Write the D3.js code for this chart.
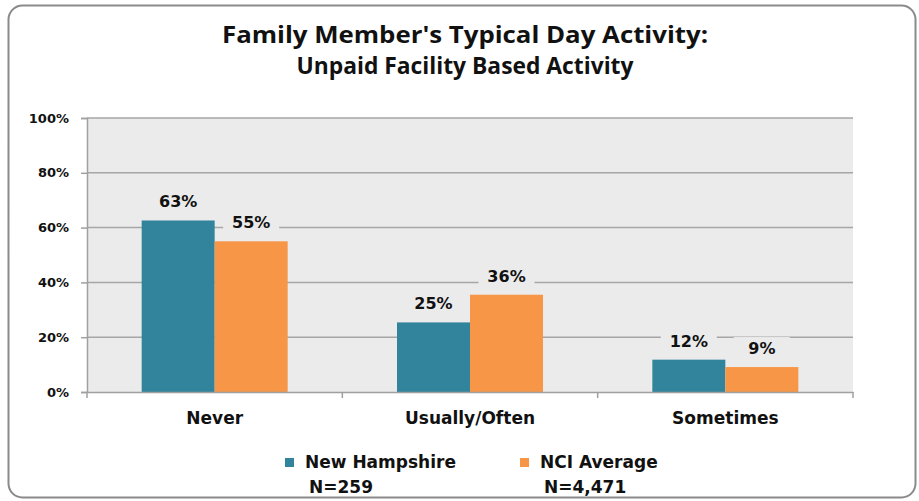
<!DOCTYPE html>
<html>
<head>
<meta charset="utf-8">
<script src="https://cdn.jsdelivr.net/npm/d3@7"></script>
<style>
  body { margin: 0; background: #fff; }
  text { font-family: "DejaVu Sans", Verdana, sans-serif; font-weight: bold; fill: #111; }
  .title { font-family: "Open Sans", "Liberation Sans", sans-serif; }
</style>
</head>
<body>
<div id="chart"></div>
<script>
// chart data
var categories = ["Never", "Usually/Often", "Sometimes"];
var seriesNames = ["New Hampshire", "NCI Average"];
var seriesN = ["N=259", "N=4,471"];
var newHampshire = [62.6, 25.4, 11.8];
var nciAverage = [55.0, 35.5, 9.1];
var labelsNH = ["63%", "25%", "12%"];
var labelsNCI = ["55%", "36%", "9%"];
var yTicks = [0, 20, 40, 60, 80, 100];
var colors = ["#31849b", "#f79646"];

var svgWidth = 919;
var svgHeight = 501;

var margin = { top: 118, right: 66, bottom: 109, left: 87 };
var width = svgWidth - margin.left - margin.right;
var height = svgHeight - margin.top - margin.bottom;

var svg = d3.select("#chart")
  .append("svg")
  .attr("width", svgWidth)
  .attr("height", svgHeight);

// outer rounded border
svg.append("rect")
  .attr("x", 8.5)
  .attr("y", 5.5)
  .attr("width", 907)
  .attr("height", 492)
  .attr("rx", 14)
  .attr("fill", "#fff")
  .attr("stroke", "#8a8a8a")
  .attr("stroke-width", 2);

// title
var title = ["Family Member's Typical Day Activity:", "Unpaid Facility Based Activity"];
var titleLens = [486, 337];
svg.selectAll(".title")
  .data(title)
  .enter()
  .append("text")
  .attr("class", "title")
  .attr("x", 465)
  .attr("y", (d, i) => 43 + i * 31)
  .attr("text-anchor", "middle")
  .attr("font-size", "23px")
  .attr("textLength", (d, i) => titleLens[i])
  .attr("lengthAdjust", "spacingAndGlyphs")
  .text(d => d);

var chartGroup = svg.append("g")
  .attr("transform", `translate(${margin.left}, ${margin.top})`);

var x0 = d3.scaleBand()
  .domain(categories)
  .range([0, width])
  .padding(0);

var groupW = 146;
var x1 = d3.scaleBand()
  .domain(seriesNames)
  .range([(x0.bandwidth() - groupW) / 2, (x0.bandwidth() + groupW) / 2])
  .padding(0);

var y = d3.scaleLinear()
  .domain([0, 100])
  .range([height, 0]);

// plot background
chartGroup.append("rect")
  .attr("width", width)
  .attr("height", height)
  .attr("fill", "#ebebeb");

// gridlines
chartGroup.selectAll(".grid")
  .data(yTicks.filter(d => d > 0))
  .enter()
  .append("line")
  .attr("x1", 0)
  .attr("x2", width)
  .attr("y1", d => y(d))
  .attr("y2", d => y(d))
  .attr("stroke", "#a6a6a6")
  .attr("stroke-width", 1.5);

// y axis
var leftAxis = d3.axisLeft(y)
  .tickValues(yTicks)
  .tickSize(6)
  .tickPadding(12)
  .tickFormat(d => d + "%");
var yAxis = chartGroup.append("g").call(leftAxis);
yAxis.select(".domain").attr("stroke", "#a0a0a0").attr("stroke-width", 1.5);
yAxis.selectAll(".tick line").attr("stroke", "#a0a0a0").attr("stroke-width", 1.5);
yAxis.selectAll(".tick text")
  .attr("font-size", "13px")
  .attr("font-family", "DejaVu Sans")
  .attr("font-weight", "bold")
  .attr("fill", "#111");

// bars
var rows = categories.map((c, i) => ({
  cat: c,
  vals: [
    { s: seriesNames[0], v: newHampshire[i], label: labelsNH[i], color: colors[0] },
    { s: seriesNames[1], v: nciAverage[i], label: labelsNCI[i], color: colors[1] }
  ]
}));

var groups = chartGroup.selectAll(".grp")
  .data(rows)
  .enter()
  .append("g")
  .attr("transform", d => `translate(${x0(d.cat)}, 0)`);

groups.selectAll("rect")
  .data(d => d.vals)
  .enter()
  .append("rect")
  .attr("x", d => x1(d.s))
  .attr("y", d => y(d.v))
  .attr("width", x1.bandwidth())
  .attr("height", d => height - y(d.v))
  .attr("fill", d => d.color);

// data labels with box in plot colour
var lab = groups.selectAll(".lab")
  .data(d => d.vals)
  .enter()
  .append("g")
  .attr("transform", d => `translate(${x1(d.s) + x1.bandwidth() / 2}, ${y(d.v) - 13})`);

lab.append("rect")
  .attr("x", -28)
  .attr("y", -17)
  .attr("width", 56)
  .attr("height", 21)
  .attr("fill", "#ebebeb");

lab.append("text")
  .attr("text-anchor", "middle")
  .attr("font-size", "16px")
  .text(d => d.label);

// x axis
var bottomAxis = d3.axisBottom(x0).tickSize(0).tickPadding(20);
var xAxis = chartGroup.append("g")
  .attr("transform", `translate(0, ${height})`)
  .call(bottomAxis);
xAxis.select(".domain").attr("stroke", "#a0a0a0").attr("stroke-width", 1.5);
xAxis.selectAll(".tick text")
  .attr("font-size", "17px")
  .attr("font-family", "DejaVu Sans")
  .attr("font-weight", "bold")
  .attr("fill", "#111");

// category separators
chartGroup.selectAll(".sep")
  .data([0, 1, 2, 3])
  .enter()
  .append("line")
  .attr("x1", d => d * x0.bandwidth())
  .attr("x2", d => d * x0.bandwidth())
  .attr("y1", height)
  .attr("y2", height + 6)
  .attr("stroke", "#a0a0a0")
  .attr("stroke-width", 1.5);

// legend
var legendX = [285, 520];
var legend = svg.selectAll(".legend")
  .data(seriesNames)
  .enter()
  .append("g")
  .attr("transform", (d, i) => `translate(${legendX[i]}, 458)`);

legend.append("rect")
  .attr("width", 9)
  .attr("height", 9)
  .attr("fill", (d, i) => colors[i]);

legend.append("text")
  .attr("x", 20)
  .attr("y", 10)
  .attr("font-size", "17px")
  .text(d => d);

legend.append("text")
  .attr("x", 24)
  .attr("y", 35)
  .attr("font-size", "17px")
  .text((d, i) => seriesN[i]);
</script>
</body>
</html>
